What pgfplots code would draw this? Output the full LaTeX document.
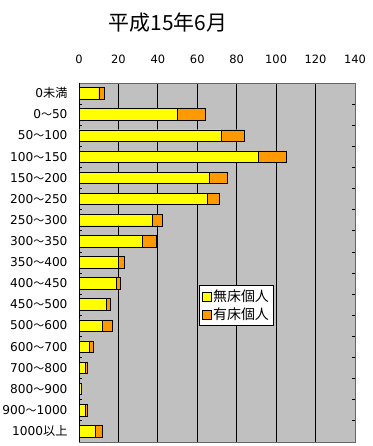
\documentclass[border=0pt]{standalone}
\usepackage{pgfplots}
\pgfplotsset{compat=1.18}
\usepackage{fontspec}
\setmainfont{DejaVu Sans}
\newfontfamily\cjk{Noto Sans CJK JP}
\definecolor{myyellow}{HTML}{FFFF00}
\definecolor{myorange}{HTML}{FF9900}
\definecolor{mygray}{HTML}{C0C0C0}
\newcommand\ti{{\cjk\fontsize{11}{11}\selectfont ～}}
\begin{document}
\begin{tikzpicture}
\useasboundingbox (0,0) rectangle (373bp,446bp);
\node[font=\cjk\fontsize{21}{23}\selectfont] at (168bp,423bp) {平成15年6月};
\begin{axis}[
  at={(79bp,4.3bp)}, anchor=south west,
  scale only axis, width=276bp, height=359bp,
  xbar stacked, bar width=11.5bp,
  y dir=reverse,
  xmin=0, xmax=140, ymin=-0.5, ymax=16.5,
  xtick={0,20,...,140},
  xticklabel pos=top,
  xticklabel style={yshift=16bp, font=\fontsize{11.5}{13}\selectfont},
  ytick={0,...,16},
  yticklabels={0{\cjk 未満},0\ti 50,50\ti 100,100\ti 150,150\ti 200,200\ti 250,250\ti 300,300\ti 350,350\ti 400,400\ti 450,450\ti 500,500\ti 600,600\ti 700,700\ti 800,800\ti 900,900\ti 1000,1000{\cjk 以上}},
  yticklabel style={xshift=-8bp, font=\fontsize{12.2}{14}\selectfont},
  minor ytick={0.5,1.5,...,15.5},
  tick align=inside,
  major tick length=0pt,
  minor tick length=3bp,
  minor tick style={black},
  xmajorgrids, major grid style={black, line width=0.8pt},
  axis background/.style={fill=mygray},
  axis line style={draw=gray!80!black},
  /pgf/number format/assume math mode=true,
  legend style={at={(0.435,0.4365)}, anchor=north west, draw=black, fill=white,
    font=\cjk\fontsize{14}{15}\selectfont, row sep=1bp, inner sep=2.5bp},
  legend image code/.code={\draw[#1, draw=black] (0bp,-4.5bp) rectangle (9bp,4.5bp);},
]
\addplot[fill=myyellow, draw=black] coordinates {
(10,0) (50,1) (72,2) (91,3) (66,4) (65,5) (37,6) (32,7) (20,8) (19,9) (14,10) (12,11) (5,12) (3,13) (1,14) (3,15) (8,16)};
\addplot[fill=myorange, draw=black] coordinates {
(3,0) (14,1) (12,2) (14,3) (9,4) (6,5) (5,6) (7,7) (3,8) (2,9) (2,10) (5,11) (2,12) (1,13) (0,14) (1,15) (4,16)};
\legend{無床個人,有床個人}
\draw[black, line width=0.8pt] (axis cs:0,-0.5) -- (axis cs:0,16.5);
\end{axis}
\end{tikzpicture}
\end{document}
